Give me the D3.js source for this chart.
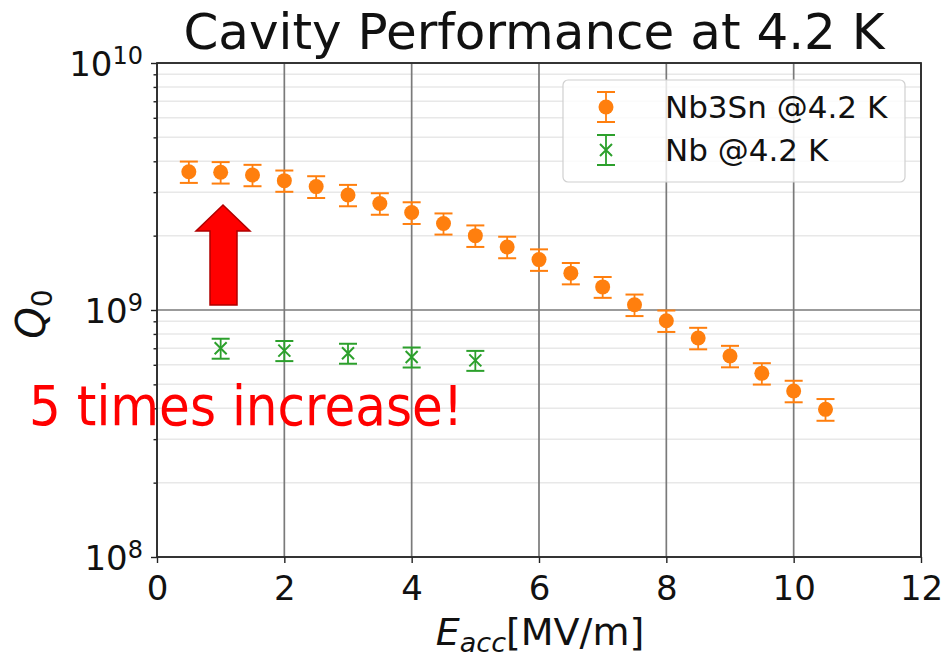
<!DOCTYPE html>
<html>
<head>
<meta charset="utf-8">
<script src="https://cdn.jsdelivr.net/npm/d3@7"></script>
<style>
  html, body { margin: 0; padding: 0; background: #fff; }
  svg { display: block; }
  text { font-family: "DejaVu Sans", sans-serif; }
</style>
</head>
<body>
<svg id="chart" width="944" height="660"></svg>
<script>
// Accelerating field (MV/m) and quality factor Q0 for each cavity
const nb3snField = [0.5, 1, 1.5, 2, 2.5, 3, 3.5, 4, 4.5, 5, 5.5, 6, 6.5, 7, 7.5, 8, 8.5, 9, 9.5, 10, 10.5];
const nb3snQ0 = [3.63e9, 3.61e9, 3.52e9, 3.34e9, 3.16e9, 2.92e9, 2.70e9, 2.48e9, 2.24e9, 2.00e9, 1.80e9,
                 1.60e9, 1.41e9, 1.24e9, 1.05e9, 0.905e9, 0.770e9, 0.651e9, 0.554e9, 0.470e9, 0.396e9];
const nb3snErr = [0.36e9, 0.36e9, 0.35e9, 0.33e9, 0.32e9, 0.29e9, 0.27e9, 0.25e9, 0.22e9, 0.20e9, 0.18e9,
                  0.16e9, 0.14e9, 0.12e9, 0.105e9, 0.09e9, 0.077e9, 0.065e9, 0.055e9, 0.047e9, 0.040e9];

const nbField = [1, 2, 3, 4, 5];
const nbQ0 = [0.700e9, 0.685e9, 0.668e9, 0.645e9, 0.625e9];
const nbErr = [0.065e9, 0.064e9, 0.062e9, 0.060e9, 0.058e9];

const xTicks = [0, 2, 4, 6, 8, 10, 12];
const yMajorTicks = [1e8, 1e9, 1e10];
const yMinorTicks = [2e8, 3e8, 4e8, 5e8, 6e8, 7e8, 8e8, 9e8, 2e9, 3e9, 4e9, 5e9, 6e9, 7e9, 8e9, 9e9];

const seriesNames = ["Nb3Sn @4.2 K", "Nb @4.2 K"];
const titleText = "Cavity Performance at 4.2 K";
const noteText = "5 times increase!";

const ORANGE = "#ff7f0e";
const GREEN = "#2ca02c";

const svg = d3.select("#chart");
const plotLeft = 157, plotRight = 921, plotTop = 63, plotBottom = 557;

const x = d3.scaleLinear().domain([0, 12]).range([plotLeft, plotRight]);
const y = d3.scaleLog().domain([1e8, 1e10]).range([plotBottom, plotTop]);

// Grid: light minor lines first, then dark major lines
const grid = svg.append("g");
grid.selectAll("line.minor").data(yMinorTicks).join("line")
  .attr("x1", plotLeft).attr("x2", plotRight)
  .attr("y1", d => y(d)).attr("y2", d => y(d))
  .attr("stroke", "#e8e8e8").attr("stroke-width", 1.5);
grid.selectAll("line.vmajor").data(xTicks).join("line")
  .attr("x1", d => x(d)).attr("x2", d => x(d))
  .attr("y1", plotTop).attr("y2", plotBottom)
  .attr("stroke", "#7a7a7a").attr("stroke-width", 1.7);
grid.selectAll("line.hmajor").data(yMajorTicks).join("line")
  .attr("x1", plotLeft).attr("x2", plotRight)
  .attr("y1", d => y(d)).attr("y2", d => y(d))
  .attr("stroke", "#7a7a7a").attr("stroke-width", 1.7);

// Axes
const xAxis = svg.append("g").attr("transform", `translate(0,${plotBottom})`)
  .call(d3.axisBottom(x).tickValues(xTicks).tickSize(6).tickPadding(13).tickFormat(d3.format("d")));
xAxis.selectAll("text").attr("font-size", 34).attr("fill", "#111").attr("font-family", "DejaVu Sans");

const yAxis = svg.append("g").attr("transform", `translate(${plotLeft},0)`)
  .call(d3.axisLeft(y).tickValues(yMajorTicks).tickSize(6).tickPadding(8).tickFormat(() => ""));
yAxis.selectAll(".tick text").each(function(d) {
  const t = d3.select(this).attr("font-size", 34).attr("fill", "#111")
    .attr("font-family", "DejaVu Sans").attr("dy", "0.36em");
  t.append("tspan").text("10");
  t.append("tspan").attr("font-size", 24).attr("dy", -12).text(Math.round(Math.log10(d)));
});
const yMinorAxis = svg.append("g").attr("transform", `translate(${plotLeft},0)`)
  .call(d3.axisLeft(y).tickValues(yMinorTicks).tickSize(3.5).tickFormat(() => ""));

[xAxis, yAxis, yMinorAxis].forEach(g => {
  g.select(".domain").remove();
  g.selectAll(".tick line").attr("stroke", "#222").attr("stroke-width", 1.4);
});

// Frame
svg.append("rect").attr("x", plotLeft).attr("y", plotTop)
  .attr("width", plotRight - plotLeft).attr("height", plotBottom - plotTop)
  .attr("fill", "none").attr("stroke", "#2a2a2a").attr("stroke-width", 1.8);

// Error bars helper
function errorBars(g, xs, ys, es, color) {
  const cap = 9;
  const d = xs.map((v, i) => ({ x: v, y: ys[i], e: es[i] }));
  g.selectAll("line.bar").data(d).join("line")
    .attr("x1", p => x(p.x)).attr("x2", p => x(p.x))
    .attr("y1", p => y(p.y + p.e)).attr("y2", p => y(p.y - p.e))
    .attr("stroke", color).attr("stroke-width", 1.8);
  g.selectAll("line.capT").data(d).join("line")
    .attr("x1", p => x(p.x) - cap).attr("x2", p => x(p.x) + cap)
    .attr("y1", p => y(p.y + p.e)).attr("y2", p => y(p.y + p.e))
    .attr("stroke", color).attr("stroke-width", 2);
  g.selectAll("line.capB").data(d).join("line")
    .attr("x1", p => x(p.x) - cap).attr("x2", p => x(p.x) + cap)
    .attr("y1", p => y(p.y - p.e)).attr("y2", p => y(p.y - p.e))
    .attr("stroke", color).attr("stroke-width", 2);
}

// Nb3Sn series: orange circles
const gSn = svg.append("g");
errorBars(gSn.append("g"), nb3snField, nb3snQ0, nb3snErr, ORANGE);
gSn.append("g").selectAll("circle").data(nb3snField).join("circle")
  .attr("cx", (d) => x(d)).attr("cy", (d, i) => y(nb3snQ0[i]))
  .attr("r", 7.5).attr("fill", ORANGE);

// Nb series: green x markers
const gNb = svg.append("g");
errorBars(gNb.append("g"), nbField, nbQ0, nbErr, GREEN);
const xm = 6;
gNb.append("g").selectAll("path").data(nbField).join("path")
  .attr("d", (d, i) => {
    const cx = x(d), cy = y(nbQ0[i]);
    return `M${cx - xm},${cy - xm}L${cx + xm},${cy + xm}M${cx - xm},${cy + xm}L${cx + xm},${cy - xm}`;
  })
  .attr("stroke", GREEN).attr("stroke-width", 2).attr("fill", "none");

// Legend
const lg = svg.append("g");
lg.append("rect").attr("x", 563).attr("y", 80).attr("width", 342).attr("height", 102)
  .attr("rx", 5).attr("fill", "#fff").attr("fill-opacity", 0.8)
  .attr("stroke", "#d0d0d0").attr("stroke-width", 1.2);
const legendRows = [
  { name: seriesNames[0], color: ORANGE, cy: 107, kind: "circle" },
  { name: seriesNames[1], color: GREEN, cy: 150, kind: "x" }
];
legendRows.forEach(r => {
  const mx = 606;
  lg.append("line").attr("x1", mx).attr("x2", mx).attr("y1", r.cy - 15).attr("y2", r.cy + 15)
    .attr("stroke", r.color).attr("stroke-width", 1.8);
  [r.cy - 15, r.cy + 15].forEach(cy => lg.append("line")
    .attr("x1", mx - 9).attr("x2", mx + 9).attr("y1", cy).attr("y2", cy)
    .attr("stroke", r.color).attr("stroke-width", 2));
  if (r.kind === "circle") {
    lg.append("circle").attr("cx", mx).attr("cy", r.cy).attr("r", 7.5).attr("fill", r.color);
  } else {
    lg.append("path")
      .attr("d", `M${mx - xm},${r.cy - xm}L${mx + xm},${r.cy + xm}M${mx - xm},${r.cy + xm}L${mx + xm},${r.cy - xm}`)
      .attr("stroke", r.color).attr("stroke-width", 2);
  }
  lg.append("text").attr("x", 665).attr("y", r.cy + 11)
    .attr("font-size", 31).attr("fill", "#111").text(r.name);
});

// Title
svg.append("text").attr("x", 534).attr("y", 49).attr("text-anchor", "middle")
  .attr("font-size", 50).attr("fill", "#111").text(titleText);

// Axis labels
const xl = svg.append("text").attr("x", 540).attr("y", 645).attr("text-anchor", "middle")
  .attr("font-size", 38).attr("fill", "#111");
xl.append("tspan").attr("font-style", "italic").text("E");
xl.append("tspan").attr("font-style", "italic").attr("font-size", 27).attr("dy", 7).text("acc");
xl.append("tspan").attr("dy", -7).text("[MV/m]");

const yl = svg.append("text").attr("transform", "translate(45,314) rotate(-90)")
  .attr("text-anchor", "middle").attr("font-size", 40).attr("fill", "#111");
yl.append("tspan").attr("font-style", "italic").text("Q");
yl.append("tspan").attr("font-size", 28).attr("dy", 7).text("0");

// Annotation: red arrow and note
const arrowPts = [[210, 305], [210, 231], [196, 231], [223, 205], [250, 231], [237, 231], [237, 305]];
svg.append("path").attr("d", d3.line()(arrowPts) + "Z")
  .attr("fill", "#ff0000").attr("stroke", "#b00000").attr("stroke-width", 1.5);
svg.append("text").attr("x", 29).attr("y", 425)
  .attr("font-family", "Lato, 'Open Sans', sans-serif")
  .attr("font-size", 55).attr("fill", "#ff0000")
  .attr("textLength", 434).attr("lengthAdjust", "spacingAndGlyphs")
  .text(noteText);
</script>
</body>
</html>
